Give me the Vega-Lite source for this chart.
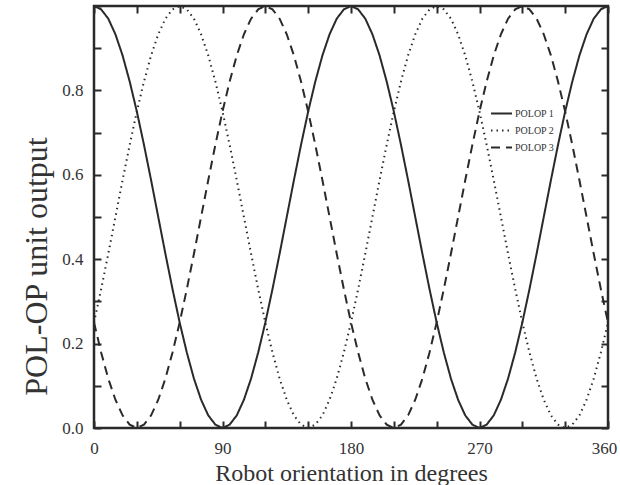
{
  "$schema": "https://vega.github.io/schema/vega-lite/v6.json",
  "width": 514,
  "height": 422,
  "autosize": {"type": "none"},
  "padding": {"left": 94, "top": 6, "right": 12, "bottom": 57},
  "background": "white",
  "config": {
    "view": {"stroke": "#2a2a2a", "strokeWidth": 2.5, "fill": null},
    "font": "Liberation Serif",
    "axis": {
      "labelFont": "Liberation Serif",
      "titleFont": "Liberation Serif",
      "labelColor": "#333333",
      "titleColor": "#333333",
      "titleFontWeight": "normal",
      "domain": false,
      "grid": false,
      "labelFontSize": 17,
      "titleFontSize": 24
    }
  },
  "data": {
    "values": [
      {"deg": 0, "POLOP 1": 1, "POLOP 2": 0.25, "POLOP 3": 0.25},
      {"deg": 5, "POLOP 1": 0.992, "POLOP 2": 0.329, "POLOP 3": 0.179},
      {"deg": 10, "POLOP 1": 0.970, "POLOP 2": 0.413, "POLOP 3": 0.117},
      {"deg": 15, "POLOP 1": 0.933, "POLOP 2": 0.5, "POLOP 3": 0.067},
      {"deg": 20, "POLOP 1": 0.883, "POLOP 2": 0.587, "POLOP 3": 0.030},
      {"deg": 25, "POLOP 1": 0.821, "POLOP 2": 0.671, "POLOP 3": 0.008},
      {"deg": 30, "POLOP 1": 0.75, "POLOP 2": 0.75, "POLOP 3": 0},
      {"deg": 35, "POLOP 1": 0.671, "POLOP 2": 0.821, "POLOP 3": 0.008},
      {"deg": 40, "POLOP 1": 0.587, "POLOP 2": 0.883, "POLOP 3": 0.030},
      {"deg": 45, "POLOP 1": 0.5, "POLOP 2": 0.933, "POLOP 3": 0.067},
      {"deg": 50, "POLOP 1": 0.413, "POLOP 2": 0.970, "POLOP 3": 0.117},
      {"deg": 55, "POLOP 1": 0.329, "POLOP 2": 0.992, "POLOP 3": 0.179},
      {"deg": 60, "POLOP 1": 0.25, "POLOP 2": 1, "POLOP 3": 0.25},
      {"deg": 65, "POLOP 1": 0.179, "POLOP 2": 0.992, "POLOP 3": 0.329},
      {"deg": 70, "POLOP 1": 0.117, "POLOP 2": 0.970, "POLOP 3": 0.413},
      {"deg": 75, "POLOP 1": 0.067, "POLOP 2": 0.933, "POLOP 3": 0.5},
      {"deg": 80, "POLOP 1": 0.030, "POLOP 2": 0.883, "POLOP 3": 0.587},
      {"deg": 85, "POLOP 1": 0.008, "POLOP 2": 0.821, "POLOP 3": 0.671},
      {"deg": 90, "POLOP 1": 0, "POLOP 2": 0.75, "POLOP 3": 0.75},
      {"deg": 95, "POLOP 1": 0.008, "POLOP 2": 0.671, "POLOP 3": 0.821},
      {"deg": 100, "POLOP 1": 0.030, "POLOP 2": 0.587, "POLOP 3": 0.883},
      {"deg": 105, "POLOP 1": 0.067, "POLOP 2": 0.5, "POLOP 3": 0.933},
      {"deg": 110, "POLOP 1": 0.117, "POLOP 2": 0.413, "POLOP 3": 0.970},
      {"deg": 115, "POLOP 1": 0.179, "POLOP 2": 0.329, "POLOP 3": 0.992},
      {"deg": 120, "POLOP 1": 0.25, "POLOP 2": 0.25, "POLOP 3": 1},
      {"deg": 125, "POLOP 1": 0.329, "POLOP 2": 0.179, "POLOP 3": 0.992},
      {"deg": 130, "POLOP 1": 0.413, "POLOP 2": 0.117, "POLOP 3": 0.970},
      {"deg": 135, "POLOP 1": 0.5, "POLOP 2": 0.067, "POLOP 3": 0.933},
      {"deg": 140, "POLOP 1": 0.587, "POLOP 2": 0.030, "POLOP 3": 0.883},
      {"deg": 145, "POLOP 1": 0.671, "POLOP 2": 0.008, "POLOP 3": 0.821},
      {"deg": 150, "POLOP 1": 0.75, "POLOP 2": 0, "POLOP 3": 0.75},
      {"deg": 155, "POLOP 1": 0.821, "POLOP 2": 0.008, "POLOP 3": 0.671},
      {"deg": 160, "POLOP 1": 0.883, "POLOP 2": 0.030, "POLOP 3": 0.587},
      {"deg": 165, "POLOP 1": 0.933, "POLOP 2": 0.067, "POLOP 3": 0.5},
      {"deg": 170, "POLOP 1": 0.970, "POLOP 2": 0.117, "POLOP 3": 0.413},
      {"deg": 175, "POLOP 1": 0.992, "POLOP 2": 0.179, "POLOP 3": 0.329},
      {"deg": 180, "POLOP 1": 1, "POLOP 2": 0.25, "POLOP 3": 0.25},
      {"deg": 185, "POLOP 1": 0.992, "POLOP 2": 0.329, "POLOP 3": 0.179},
      {"deg": 190, "POLOP 1": 0.970, "POLOP 2": 0.413, "POLOP 3": 0.117},
      {"deg": 195, "POLOP 1": 0.933, "POLOP 2": 0.5, "POLOP 3": 0.067},
      {"deg": 200, "POLOP 1": 0.883, "POLOP 2": 0.587, "POLOP 3": 0.030},
      {"deg": 205, "POLOP 1": 0.821, "POLOP 2": 0.671, "POLOP 3": 0.008},
      {"deg": 210, "POLOP 1": 0.75, "POLOP 2": 0.75, "POLOP 3": 0},
      {"deg": 215, "POLOP 1": 0.671, "POLOP 2": 0.821, "POLOP 3": 0.008},
      {"deg": 220, "POLOP 1": 0.587, "POLOP 2": 0.883, "POLOP 3": 0.030},
      {"deg": 225, "POLOP 1": 0.5, "POLOP 2": 0.933, "POLOP 3": 0.067},
      {"deg": 230, "POLOP 1": 0.413, "POLOP 2": 0.970, "POLOP 3": 0.117},
      {"deg": 235, "POLOP 1": 0.329, "POLOP 2": 0.992, "POLOP 3": 0.179},
      {"deg": 240, "POLOP 1": 0.25, "POLOP 2": 1, "POLOP 3": 0.25},
      {"deg": 245, "POLOP 1": 0.179, "POLOP 2": 0.992, "POLOP 3": 0.329},
      {"deg": 250, "POLOP 1": 0.117, "POLOP 2": 0.970, "POLOP 3": 0.413},
      {"deg": 255, "POLOP 1": 0.067, "POLOP 2": 0.933, "POLOP 3": 0.5},
      {"deg": 260, "POLOP 1": 0.030, "POLOP 2": 0.883, "POLOP 3": 0.587},
      {"deg": 265, "POLOP 1": 0.008, "POLOP 2": 0.821, "POLOP 3": 0.671},
      {"deg": 270, "POLOP 1": 0, "POLOP 2": 0.75, "POLOP 3": 0.75},
      {"deg": 275, "POLOP 1": 0.008, "POLOP 2": 0.671, "POLOP 3": 0.821},
      {"deg": 280, "POLOP 1": 0.030, "POLOP 2": 0.587, "POLOP 3": 0.883},
      {"deg": 285, "POLOP 1": 0.067, "POLOP 2": 0.5, "POLOP 3": 0.933},
      {"deg": 290, "POLOP 1": 0.117, "POLOP 2": 0.413, "POLOP 3": 0.970},
      {"deg": 295, "POLOP 1": 0.179, "POLOP 2": 0.329, "POLOP 3": 0.992},
      {"deg": 300, "POLOP 1": 0.25, "POLOP 2": 0.25, "POLOP 3": 1},
      {"deg": 305, "POLOP 1": 0.329, "POLOP 2": 0.179, "POLOP 3": 0.992},
      {"deg": 310, "POLOP 1": 0.413, "POLOP 2": 0.117, "POLOP 3": 0.970},
      {"deg": 315, "POLOP 1": 0.5, "POLOP 2": 0.067, "POLOP 3": 0.933},
      {"deg": 320, "POLOP 1": 0.587, "POLOP 2": 0.030, "POLOP 3": 0.883},
      {"deg": 325, "POLOP 1": 0.671, "POLOP 2": 0.008, "POLOP 3": 0.821},
      {"deg": 330, "POLOP 1": 0.75, "POLOP 2": 0, "POLOP 3": 0.75},
      {"deg": 335, "POLOP 1": 0.821, "POLOP 2": 0.008, "POLOP 3": 0.671},
      {"deg": 340, "POLOP 1": 0.883, "POLOP 2": 0.030, "POLOP 3": 0.587},
      {"deg": 345, "POLOP 1": 0.933, "POLOP 2": 0.067, "POLOP 3": 0.5},
      {"deg": 350, "POLOP 1": 0.970, "POLOP 2": 0.117, "POLOP 3": 0.413},
      {"deg": 355, "POLOP 1": 0.992, "POLOP 2": 0.179, "POLOP 3": 0.329},
      {"deg": 360, "POLOP 1": 1, "POLOP 2": 0.25, "POLOP 3": 0.25}
    ]
  },
  "transform": [
    {"fold": ["POLOP 1", "POLOP 2", "POLOP 3"], "as": ["series", "v"]}
  ],
  "layer": [
    {
      "mark": {"type": "line", "strokeWidth": 2, "color": "#2a2a2a"},
      "encoding": {
        "x": {
          "field": "deg",
          "type": "quantitative",
          "scale": {"domain": [0, 360], "nice": false, "zero": false},
          "axis": {
            "values": [0, 30, 60, 90, 120, 150, 180, 210, 240, 270, 300, 330, 360],
            "labelExpr": "datum.value % 90 == 0 ? datum.label : ''",
            "zindex": 1,
            "offset": -7,
            "ticks": true,
            "tickSize": 7,
            "tickColor": "#2a2a2a",
            "tickWidth": 2,
            "labelPadding": 12,
            "labelFlush": false,
            "labelOverlap": false,
            "labelOffset": {"condition": {"test": "datum.value == 360", "value": -4}, "value": 0},
            "title": "Robot orientation in degrees",
            "titleBaseline": "alphabetic",
            "titleY": 59
          }
        },
        "y": {
          "field": "v",
          "type": "quantitative",
          "scale": {"domain": [0, 1], "nice": false},
          "axis": {
            "values": [0, 0.1, 0.2, 0.3, 0.4, 0.5, 0.6, 0.7, 0.8, 0.9, 1],
            "format": ".1f",
            "labelExpr": "round(datum.value * 10) % 2 == 0 && datum.value < 0.95 ? datum.label : ''",
            "zindex": 1,
            "offset": -7,
            "ticks": true,
            "tickSize": 7,
            "tickColor": "#2a2a2a",
            "tickWidth": 2,
            "labelPadding": 11,
            "labelFlush": false,
            "labelOverlap": false,
            "title": "POL-OP unit output",
            "titleFontSize": 32,
            "titleX": -55,
            "titleY": 260,
            "titleBaseline": "alphabetic",
            "titleAlign": "center"
          }
        },
        "strokeDash": {
          "field": "series",
          "type": "nominal",
          "scale": {
            "domain": ["POLOP 1", "POLOP 2", "POLOP 3"],
            "range": [[1, 0], [1.5, 4], [9, 6]]
          },
          "legend": {
            "orient": "none",
            "legendX": 396,
            "legendY": 96,
            "title": null,
            "padding": 0,
            "labelFont": "Liberation Serif",
            "labelFontSize": 10,
            "labelColor": "#333333",
            "labelOffset": 2,
            "symbolType": "stroke",
            "symbolSize": 441,
            "symbolStrokeWidth": 2,
            "symbolStrokeColor": "#2a2a2a",
            "rowPadding": -3
          }
        }
      }
    },
    {
      "mark": {"type": "line", "opacity": 0},
      "encoding": {
        "x": {
          "field": "deg",
          "type": "quantitative",
          "axis": {
            "orient": "top",
            "values": [0, 30, 60, 90, 120, 150, 180, 210, 240, 270, 300, 330, 360],
            "zindex": 1,
            "offset": -7,
            "ticks": true,
            "tickSize": 7,
            "tickColor": "#2a2a2a",
            "tickWidth": 2,
            "labels": false,
            "title": null
          }
        },
        "y": {
          "field": "v",
          "type": "quantitative",
          "axis": {
            "orient": "right",
            "values": [0, 0.1, 0.2, 0.3, 0.4, 0.5, 0.6, 0.7, 0.8, 0.9, 1],
            "zindex": 1,
            "offset": -7,
            "ticks": true,
            "tickSize": 7,
            "tickColor": "#2a2a2a",
            "tickWidth": 2,
            "labels": false,
            "title": null
          }
        }
      }
    }
  ],
  "resolve": {"axis": {"x": "independent", "y": "independent"}}
}
